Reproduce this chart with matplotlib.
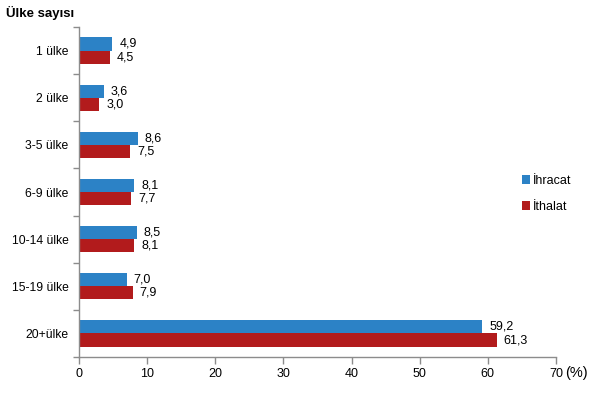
import matplotlib
matplotlib.use("Agg")
import matplotlib.pyplot as plt
import numpy as np

plt.rcParams['font.family'] = ['Liberation Sans', 'DejaVu Sans']

categories = ["1 ülke", "2 ülke", "3-5 ülke", "6-9 ülke", "10-14 ülke", "15-19 ülke", "20+ülke"]
ihracat = [4.9, 3.6, 8.6, 8.1, 8.5, 7.0, 59.2]
ithalat = [4.5, 3.0, 7.5, 7.7, 8.1, 7.9, 61.3]
xticks = [0, 10, 20, 30, 40, 50, 60, 70]

blue = "#2C82C6"
red = "#B21B1C"
gray = "#8C8C8C"

fig = plt.figure(figsize=(6.09, 3.95), dpi=100)
ax = fig.add_axes([0.1297, 0.0962, 0.7833, 0.8354])

n = len(categories)
y = np.arange(n)
h = 0.28
ax.barh(y - h / 2, ihracat, height=h, color=blue, label="İhracat")
ax.barh(y + h / 2, ithalat, height=h, color=red, label="İthalat")

def fmt(v):
    return f"{v:.1f}".replace(".", ",")

for yi, v in zip(y, ihracat):
    ax.text(v + 1.0, yi - h / 2, fmt(v), va="center", ha="left", fontsize=9)
for yi, v in zip(y, ithalat):
    ax.text(v + 1.0, yi + h / 2, fmt(v), va="center", ha="left", fontsize=9)

ax.set_ylim(n - 0.5, -0.5)
ax.set_xlim(0, 70)
ax.set_xticks(xticks)
ax.set_xticklabels([str(t) for t in xticks], fontsize=9)
ax.set_yticks(y)
ax.set_yticklabels(categories, fontsize=8.7)
ax.tick_params(axis="y", length=0, pad=7.5)
ax.set_yticks(np.arange(n + 1) - 0.5, minor=True)
ax.tick_params(axis="y", which="minor", length=4, color=gray, width=1)
ax.tick_params(axis="x", length=5, color=gray, width=1, pad=3)

for s in ["top", "right"]:
    ax.spines[s].set_visible(False)
for s in ["left", "bottom"]:
    ax.spines[s].set_color(gray)
    ax.spines[s].set_linewidth(1)

ax.text(71.3, -0.047, "(%)", transform=ax.get_xaxis_transform(), fontsize=10.5,
        ha="left", va="center")

fig.text(0.01, 0.985, "Ülke sayısı", fontsize=9.5, fontweight="bold", ha="left", va="top")

leg = fig.legend(loc="upper left", bbox_to_anchor=(0.838, 0.585), frameon=False,
                 fontsize=9, handlelength=0.7, handleheight=0.7, handletextpad=0.2,
                 labelspacing=1.1)

fig.savefig("out.png", dpi=100)
